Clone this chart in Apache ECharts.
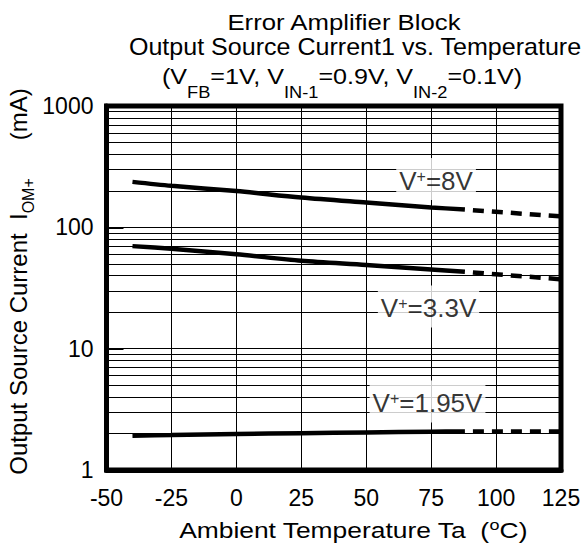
<!DOCTYPE html>
<html>
<head>
<meta charset="utf-8">
<script src="https://cdn.jsdelivr.net/npm/echarts@6/dist/echarts.min.js"></script>
<style>html,body{margin:0;padding:0;background:#fff}#c{width:585px;height:545px}</style>
</head>
<body>
<div id="c"></div>
<script>
// ---- data ----
const temps    = [-40, -25, 0, 25, 50, 75, 88];      // measured range (solid)
const tempsExt = [88, 125];                           // extrapolated range (dashed)
const i8V      = [237, 220, 199, 176, 160, 146, 140];
const i8VExt   = [140, 123];
const i33V     = [70, 66.5, 60, 53, 49, 45, 43];
const i33VExt  = [43, 37.3];
const i195V    = [1.92, 1.94, 1.98, 2.01, 2.04, 2.07, 2.08];
const i195VExt = [2.08, 2.08];
const xTicks   = [-50, -25, 0, 25, 50, 75, 100, 125];
const yTicks   = [1, 10, 100, 1000];
const minorY   = [2,3,4,5,6,7,8,9, 20,30,40,50,60,70,80,90, 200,300,400,500,600,700,800,900];
const labelNames = ['8V', '3.3V', '1.95V'];
const labelT     = [76.9, 74, 73.6];
const labelI     = [250, 22.3, 3.67];

const FF = '"Liberation Sans", Arial, Helvetica, sans-serif';
const pair = (xs, ys) => xs.map((x, i) => [x, ys[i]]);

const chart = echarts.init(document.getElementById('c'), null, {renderer: 'svg'});

const solidStyle  = {color: '#000', width: 4.5};
const dashedStyle = {color: '#000', width: 4.5, type: [11, 8], dashOffset: 11};

function curve(vals, ext) {
  return [
    {type: 'line', data: pair(temps, vals), symbol: 'none', smooth: 0.3, lineStyle: solidStyle, z: 3, silent: true},
    {type: 'line', data: pair(tempsExt, ext), symbol: 'none', lineStyle: dashedStyle, z: 3, silent: true}
  ];
}

const option = {
  animation: false,
  textStyle: {fontFamily: FF},
  grid: {left: 106.5, right: 24, top: 106, bottom: 75, show: true, borderColor: '#000', borderWidth: 5, containLabel: false},
  xAxis: {
    type: 'value', min: xTicks[0], max: xTicks[xTicks.length - 1], interval: 25,
    axisLine: {onZero: false, lineStyle: {color: '#000', width: 5}},
    axisTick: {show: false},
    splitLine: {show: true, lineStyle: {color: '#000', width: 1}},
    axisLabel: {color: '#000', fontSize: 23, fontFamily: FF, margin: 16,
      formatter: v => xTicks.indexOf(v) >= 0 ? String(v) : ''}
  },
  yAxis: {
    type: 'log', logBase: 10, min: yTicks[0], max: yTicks[yTicks.length - 1],
    axisLine: {onZero: false, lineStyle: {color: '#000', width: 5}},
    axisTick: {show: true, inside: true, length: 17, lineStyle: {color: '#000', width: 2}},
    splitLine: {show: true, lineStyle: {color: '#000', width: 1}},
    axisLabel: {color: '#000', fontSize: 23, fontFamily: FF, margin: 13,
      formatter: v => yTicks.indexOf(Math.round(v)) >= 0 ? String(Math.round(v)) : ''}
  },
  graphic: [
    {type: 'text', x: 344, y: 22.5, scaleX: 1.17, z: 100, style: {text: 'Error Amplifier Block', fontSize: 22, fontFamily: FF, fill: '#000', align: 'center', verticalAlign: 'middle'}},
    {type: 'text', x: 355, y: 47, scaleX: 1.09, z: 100, style: {text: 'Output Source Current1 vs. Temperature', fontSize: 23, fontFamily: FF, fill: '#000', align: 'center', verticalAlign: 'middle'}},
    {type: 'text', x: 342, y: 76.5, scaleX: 1.14, z: 100, style: {
      text: '{m|(V}{s|FB}{m|=1V, V}{s|IN-1}{m|=0.9V, V}{s|IN-2}{m|=0.1V)}',
      fill: '#000', align: 'center', verticalAlign: 'middle', fontSize: 22, fontFamily: FF,
      rich: {
        m: {fontSize: 22, fontFamily: FF, lineHeight: 22, verticalAlign: 'middle', fill: '#000'},
        s: {fontSize: 16, fontFamily: FF, lineHeight: 16, padding: [31, 0, 0, 0], verticalAlign: 'middle', fill: '#000'}
      }}},
    {type: 'text', x: 353, y: 530, scaleX: 1.2, z: 100, style: {
      text: '{m|Ambient Temperature Ta  (}{o|o}{m|C)}',
      fill: '#000', align: 'center', verticalAlign: 'middle', fontSize: 22, fontFamily: FF,
      rich: {
        m: {fontSize: 22, fontFamily: FF, lineHeight: 22, verticalAlign: 'middle', fill: '#000'},
        o: {fontSize: 15, fontFamily: FF, lineHeight: 15, padding: [0, 0, 10, 0], verticalAlign: 'middle', fill: '#000'}
      }}},
    {type: 'text', x: 18, y: 281.5, rotation: Math.PI / 2, z: 100, style: {
      text: '{m|Output Source Current  I}{s|OM+}{g|(mA)}',
      fill: '#000', align: 'center', verticalAlign: 'middle', fontSize: 24, fontFamily: FF,
      rich: {
        m: {fontSize: 24, fontFamily: FF, lineHeight: 24, verticalAlign: 'middle', fill: '#000'},
        s: {fontSize: 16, fontFamily: FF, lineHeight: 16, padding: [21, 0, 0, 0], verticalAlign: 'middle', fill: '#000'},
        g: {fontSize: 24, fontFamily: FF, lineHeight: 24, padding: [0, 0, 0, 38], verticalAlign: 'middle', fill: '#000'}
      }}}
  ],
  series: [
    {type: 'line', data: [], symbol: 'none', silent: true, z: 1,
      markLine: {silent: true, z: 1, symbol: 'none', label: {show: false}, animation: false,
        lineStyle: {color: '#000', width: 1, type: 'solid'},
        data: minorY.map(v => ({yAxis: v}))}},
    ...curve(i8V, i8VExt),
    ...curve(i33V, i33VExt),
    ...curve(i195V, i195VExt),
    {type: 'scatter', data: pair(labelT, labelI), symbolSize: 1, itemStyle: {color: 'rgba(0,0,0,0)'}, z: 10, silent: true,
      label: {show: true, position: 'inside', backgroundColor: '#fff', padding: [10, 3, 6, 3], color: '#000',
        formatter: p => '{v|V}{p|+}{v|=' + labelNames[p.dataIndex] + '}',
        rich: {
          v: {fontSize: 26, lineHeight: 26, fontFamily: FF, color: '#000', verticalAlign: 'middle'},
          p: {fontSize: 16, lineHeight: 16, fontFamily: FF, color: '#000', padding: [0, 0, 10, 0], verticalAlign: 'middle'}
        }}}
  ]
};
chart.setOption(option);
</script>
</body>
</html>
